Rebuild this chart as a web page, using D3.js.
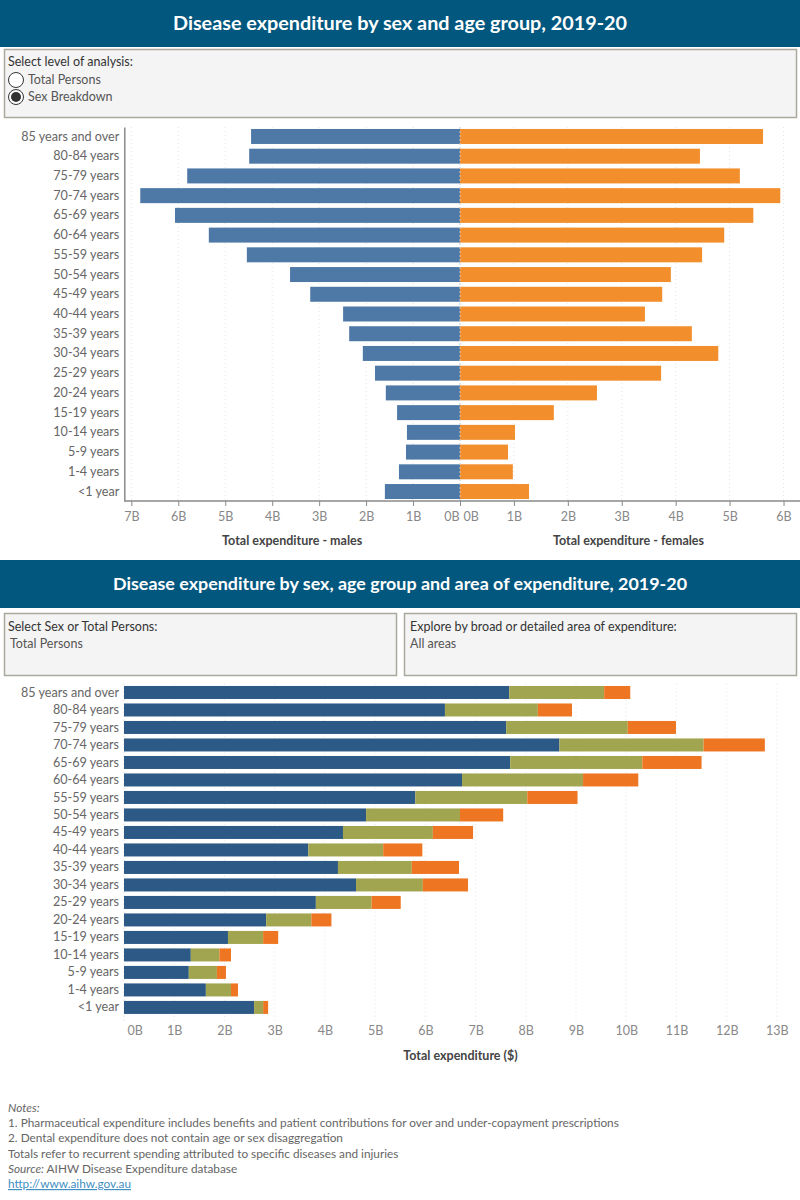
<!DOCTYPE html>
<html>
<head>
<meta charset="utf-8">
<script src="https://cdn.jsdelivr.net/npm/d3@7"></script>
<style>
  body { margin: 0; background: #fff; }
  svg text { font-family: Lato, "Open Sans", sans-serif; }
</style>
</head>
<body>
<div id="chart"></div>
<script>
// age groups, top to bottom
var ageGroups = ["85 years and over", "80-84 years", "75-79 years", "70-74 years", "65-69 years",
    "60-64 years", "55-59 years", "50-54 years", "45-49 years", "40-44 years", "35-39 years",
    "30-34 years", "25-29 years", "20-24 years", "15-19 years", "10-14 years", "5-9 years",
    "1-4 years", "<1 year"];

// top chart: total expenditure ($B) by sex
var maleSpend = [4.45, 4.49, 5.81, 6.81, 6.07, 5.35, 4.54, 3.62, 3.19, 2.49, 2.36, 2.07, 1.81,
    1.58, 1.34, 1.13, 1.15, 1.30, 1.60];
var femaleSpend = [5.62, 4.45, 5.19, 5.94, 5.44, 4.90, 4.49, 3.91, 3.75, 3.43, 4.30, 4.79, 3.73,
    2.54, 1.74, 1.02, 0.89, 0.98, 1.28];

// bottom chart: total persons ($B) by area of expenditure
var areaKeys = ["hospitals", "primaryCare", "referredMedical"];
var hospitals = [7.67, 6.39, 7.61, 8.67, 7.69, 6.73, 5.80, 4.82, 4.36, 3.67, 4.26, 4.62, 3.82,
    2.83, 2.07, 1.33, 1.29, 1.63, 2.59];
var primaryCare = [1.89, 1.85, 2.42, 2.87, 2.63, 2.41, 2.23, 1.87, 1.79, 1.49, 1.47, 1.33, 1.11,
    0.90, 0.70, 0.57, 0.56, 0.50, 0.18];
var referredMedical = [0.52, 0.68, 0.96, 1.22, 1.18, 1.10, 1.00, 0.86, 0.80, 0.78, 0.94, 0.90, 0.58,
    0.40, 0.30, 0.23, 0.18, 0.14, 0.10];

// tick labels
var maleTicks = [0, 1, 2, 3, 4, 5, 6, 7];
var femaleTicks = [0, 1, 2, 3, 4, 5, 6];
var totalTicks = [0, 1, 2, 3, 4, 5, 6, 7, 8, 9, 10, 11, 12, 13];

var headerColor = "#02577e";
var maleColor = "#4e79a7", femaleColor = "#f28e2b";
var areaColor = d3.scaleOrdinal().domain(areaKeys).range(["#2c5985", "#a2a54f", "#ee7622"]);
var fmtB = function (d) { return d + "B"; };

var svg = d3.select("#chart")
    .append("svg")
    .attr("width", 800)
    .attr("height", 1200);

// ---------- header helper
function header(y, h, title, size) {
    svg.append("rect").attr("x", 0).attr("y", y).attr("width", 800).attr("height", h)
        .attr("fill", headerColor);
    svg.append("text").attr("x", 400).attr("y", y + h / 2 + 6)
        .attr("text-anchor", "middle").attr("fill", "#fff")
        .style("font-size", size + "px").style("font-weight", "bold")
        .text(title);
}

function filterBox(x, y, w, h) {
    svg.append("rect").attr("x", x + 0.5).attr("y", y + 0.5).attr("width", w).attr("height", h)
        .attr("fill", "#f4f4f4").attr("stroke", "#aba89d").attr("stroke-width", 1.5);
}

// ================= TOP CHART =================
header(0, 47, "Disease expenditure by sex and age group, 2019-20", 19.8);
filterBox(4, 49, 792, 68);
svg.append("text").attr("x", 8).attr("y", 66).style("font-size", "12.5px").attr("fill", "#333")
    .text("Select level of analysis:");
var radios = ["Total Persons", "Sex Breakdown"];
radios.forEach(function (r, i) {
    var cy = 80 + i * 17;
    svg.append("circle").attr("cx", 16).attr("cy", cy).attr("r", 7.5)
        .attr("fill", "#fff").attr("stroke", "#333").attr("stroke-width", 1);
    if (i == 1) {
        svg.append("circle").attr("cx", 16).attr("cy", cy).attr("r", 5).attr("fill", "#333");
    }
    svg.append("text").attr("x", 28).attr("y", cy + 4).style("font-size", "12.5px").attr("fill", "#555")
        .text(r);
});

var tp = { left: 124.3, zero: 460, right: 797, top: 127, bottom: 501 };

var yTop = d3.scaleBand()
    .domain(ageGroups)
    .range([tp.top, tp.bottom])
    .paddingInner(0.24)
    .paddingOuter(0.1);

var xMale = d3.scaleLinear().domain([0, 7.15]).range([tp.zero, tp.left]);
var xFemale = d3.scaleLinear().domain([0, 6.25]).range([tp.zero, tp.right]);

// gridlines
var gTop = svg.append("g");
gTop.selectAll(".gm").data(maleTicks.slice(1)).enter().append("line")
    .attr("x1", function (d) { return xMale(d); }).attr("x2", function (d) { return xMale(d); })
    .attr("y1", tp.top).attr("y2", tp.bottom)
    .attr("stroke", "#e4e4e4").attr("stroke-dasharray", "1,3");
gTop.selectAll(".gf").data(femaleTicks.slice(1)).enter().append("line")
    .attr("x1", function (d) { return xFemale(d); }).attr("x2", function (d) { return xFemale(d); })
    .attr("y1", tp.top).attr("y2", tp.bottom)
    .attr("stroke", "#e4e4e4").attr("stroke-dasharray", "1,3");

// bars
var topData = ageGroups.map(function (a, i) { return { age: a, male: maleSpend[i], female: femaleSpend[i] }; });
gTop.selectAll(".male").data(topData).enter().append("rect")
    .attr("x", function (d) { return xMale(d.male); })
    .attr("y", function (d) { return yTop(d.age); })
    .attr("width", function (d) { return xMale(0) - xMale(d.male); })
    .attr("height", yTop.bandwidth())
    .attr("fill", maleColor);
gTop.selectAll(".female").data(topData).enter().append("rect")
    .attr("x", xFemale(0))
    .attr("y", function (d) { return yTop(d.age); })
    .attr("width", function (d) { return xFemale(d.female) - xFemale(0); })
    .attr("height", yTop.bandwidth())
    .attr("fill", femaleColor);

// zero line
gTop.append("line").attr("x1", tp.zero).attr("x2", tp.zero).attr("y1", tp.top).attr("y2", tp.bottom)
    .attr("stroke", "#c8c8c8").attr("stroke-dasharray", "2,2");

// y axis
var yAxisTop = svg.append("g").attr("transform", "translate(" + tp.left + ",0)")
    .call(d3.axisLeft(yTop).tickSize(0).tickPadding(5));
yAxisTop.select(".domain").attr("stroke", "#8a8a8a").attr("stroke-width", 1.5);
yAxisTop.selectAll("text").style("font-size", "12.6px").attr("fill", "#666");

// x axes
function styleAxis(g) {
    g.select(".domain").remove();
    g.selectAll("line").attr("stroke", "#8a8a8a");
    g.selectAll("text").style("font-size", "12.5px").attr("fill", "#888");
}
var axM = svg.append("g").attr("transform", "translate(0," + tp.bottom + ")")
    .call(d3.axisBottom(xMale).tickValues(maleTicks).tickFormat(fmtB).tickSize(5).tickPadding(6))
    .call(styleAxis);
axM.selectAll("text").filter(function (d) { return d === 0; })
    .attr("text-anchor", "end").attr("x", -1);
var axF = svg.append("g").attr("transform", "translate(0," + tp.bottom + ")")
    .call(d3.axisBottom(xFemale).tickValues(femaleTicks).tickFormat(fmtB).tickSize(5).tickPadding(6))
    .call(styleAxis);
axF.selectAll("text").filter(function (d) { return d === 0; })
    .attr("text-anchor", "start").attr("x", 3);
svg.append("line").attr("x1", tp.left).attr("x2", 800).attr("y1", tp.bottom).attr("y2", tp.bottom)
    .attr("stroke", "#8a8a8a").attr("stroke-width", 1.5);

svg.append("text").attr("x", (tp.left + tp.zero) / 2).attr("y", 545).attr("text-anchor", "middle")
    .style("font-size", "12.5px").style("font-weight", "bold").attr("fill", "#444")
    .text("Total expenditure - males");
svg.append("text").attr("x", (tp.zero + tp.right) / 2).attr("y", 545).attr("text-anchor", "middle")
    .style("font-size", "12.5px").style("font-weight", "bold").attr("fill", "#444")
    .text("Total expenditure - females");

// ================= BOTTOM CHART =================
header(560, 48, "Disease expenditure by sex, age group and area of expenditure, 2019-20", 17.9);
filterBox(4, 613, 392, 62);
filterBox(404, 613, 392, 62);
svg.append("text").attr("x", 8).attr("y", 631).style("font-size", "12.5px").attr("fill", "#333")
    .text("Select Sex or Total Persons:");
svg.append("text").attr("x", 10).attr("y", 648).style("font-size", "12.5px").attr("fill", "#555")
    .text("Total Persons");
svg.append("text").attr("x", 410).attr("y", 631).style("font-size", "12.5px").attr("fill", "#333")
    .text("Explore by broad or detailed area of expenditure:");
svg.append("text").attr("x", 410).attr("y", 648).style("font-size", "12.5px").attr("fill", "#555")
    .text("All areas");

var bot = { left: 124, right: 797, top: 683.7, bottom: 1016.2 };

var yBot = d3.scaleBand()
    .domain(ageGroups)
    .range([bot.top, bot.bottom])
    .paddingInner(0.257)
    .paddingOuter(0.13);
var xBot = d3.scaleLinear().domain([0, 13.4]).range([bot.left, bot.right]);

var botData = ageGroups.map(function (a, i) {
    return { age: a, hospitals: hospitals[i], primaryCare: primaryCare[i], referredMedical: referredMedical[i] };
});
var stacked = d3.stack().keys(areaKeys)(botData);

var gBot = svg.append("g");
gBot.selectAll(".grid").data(totalTicks).enter().append("line")
    .attr("x1", function (d) { return xBot(d); }).attr("x2", function (d) { return xBot(d); })
    .attr("y1", bot.top).attr("y2", 1021)
    .attr("stroke", function (d) { return d === 0 ? "#cfcfcf" : "#e4e4e4"; })
    .attr("stroke-dasharray", "1,3");

gBot.selectAll(".layer").data(stacked).enter().append("g")
    .attr("fill", function (d) { return areaColor(d.key); })
    .selectAll("rect")
    .data(function (d) { return d; })
    .enter().append("rect")
    .attr("x", function (d) { return xBot(d[0]); })
    .attr("y", function (d) { return yBot(d.data.age); })
    .attr("width", function (d) { return xBot(d[1]) - xBot(d[0]); })
    .attr("height", yBot.bandwidth());

var yAxisBot = svg.append("g").attr("transform", "translate(" + bot.left + ",0)")
    .call(d3.axisLeft(yBot).tickSize(0).tickPadding(5));
yAxisBot.select(".domain").remove();
yAxisBot.selectAll("text").style("font-size", "12.6px").attr("fill", "#666");

var axB = svg.append("g").attr("transform", "translate(0,1018)")
    .call(d3.axisBottom(xBot).tickValues(totalTicks).tickFormat(fmtB).tickSize(0).tickPadding(8))
    .call(styleAxis);
axB.selectAll("text").filter(function (d) { return d === 0; })
    .attr("text-anchor", "start").attr("x", 3);

svg.append("text").attr("x", (bot.left + bot.right) / 2).attr("y", 1060).attr("text-anchor", "middle")
    .style("font-size", "12.5px").style("font-weight", "bold").attr("fill", "#444")
    .text("Total expenditure ($)");

// ================= NOTES =================
var notes = svg.append("g").style("font-size", "11.8px").attr("fill", "#666");
notes.append("text").attr("x", 8).attr("y", 1112).style("font-style", "italic").text("Notes:");
notes.append("text").attr("x", 8).attr("y", 1127)
    .text("1.  Pharmaceutical expenditure includes benefits and patient contributions for over and under-copayment prescriptions");
notes.append("text").attr("x", 8).attr("y", 1142)
    .text("2.  Dental expenditure does not contain age or sex disaggregation");
notes.append("text").attr("x", 8).attr("y", 1158)
    .text("Totals refer to recurrent spending attributed to specific diseases and injuries");
var src = notes.append("text").attr("x", 8).attr("y", 1173);
src.append("tspan").style("font-style", "italic").text("Source:");
src.append("tspan").text(" AIHW Disease Expenditure database");
notes.append("text").attr("x", 8).attr("y", 1188).attr("fill", "#3f8fc4")
    .style("text-decoration", "underline").text("http://www.aihw.gov.au");
</script>
</body>
</html>
